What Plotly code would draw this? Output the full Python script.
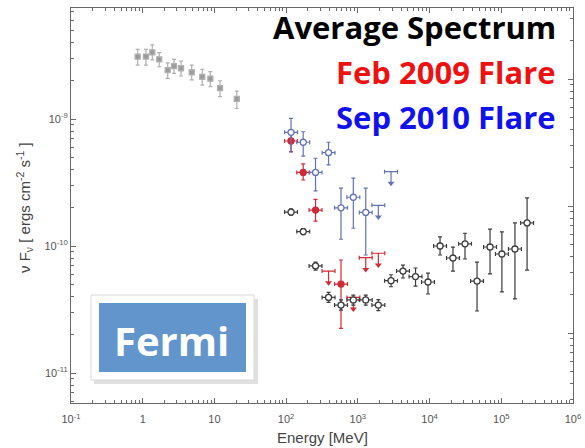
import numpy as np
import plotly.graph_objects as go

# ---- data -------------------------------------------------------------
# Low-energy (1-30 MeV) average spectrum points
soft_e = [0.85, 1.11, 1.36, 1.70, 2.23, 2.73, 3.42, 4.82, 6.77, 8.77, 11.97, 20.5]
soft_f = [3.10e-9, 3.10e-9, 3.35e-9, 2.95e-9, 2.43e-9, 2.61e-9, 2.51e-9, 2.33e-9,
          2.15e-9, 2.08e-9, 1.75e-9, 1.44e-9]
soft_hi = [3.54e-9, 3.54e-9, 3.83e-9, 3.33e-9, 2.77e-9, 2.95e-9, 2.86e-9, 2.66e-9,
           2.46e-9, 2.36e-9, 2.00e-9, 1.66e-9]
soft_lo = [2.66e-9, 2.66e-9, 2.92e-9, 2.58e-9, 2.09e-9, 2.29e-9, 2.18e-9, 2.03e-9,
           1.85e-9, 1.80e-9, 1.50e-9, 1.21e-9]
soft_half_dex = 0.02

# LAT energy bins (MeV), half-width in decades
lat_e = [117, 173, 257, 390, 582, 865, 1288, 1930, 2900, 4260, 6370, 9510,
         14000, 21200, 31200, 45900, 69700, 102000, 155000, 229000]
lat_half_dex = 0.09

# Average spectrum
avg_f = [1.85e-10, 1.30e-10, 6.97e-11, 3.94e-11, 3.43e-11, 3.76e-11, 3.76e-11, 3.43e-11,
         5.33e-11, 6.35e-11, 5.75e-11, 5.21e-11, 1.00e-10, 8.05e-11, 1.04e-10, 5.30e-11,
         9.82e-11, 8.65e-11, 9.47e-11, 1.52e-10]
avg_hi = [1.96e-10, 1.37e-10, 7.48e-11, 4.32e-11, 3.76e-11, 4.11e-11, 4.11e-11, 3.79e-11,
          5.94e-11, 7.08e-11, 6.71e-11, 6.12e-11, 1.18e-10, 9.80e-11, 1.26e-10, 7.48e-11,
          1.36e-10, 1.29e-10, 1.52e-10, 2.39e-10]
avg_lo = [1.75e-10, 1.23e-10, 6.47e-11, 3.60e-11, 3.13e-11, 3.43e-11, 3.43e-11, 3.10e-11,
          4.78e-11, 5.60e-11, 4.84e-11, 4.19e-11, 8.50e-11, 6.35e-11, 7.90e-11, 3.08e-11,
          6.03e-11, 4.35e-11, 3.83e-11, 6.47e-11]

# Feb 2009 flare
feb_e = [117, 173, 257, 582]
feb_f = [6.71e-10, 3.80e-10, 1.92e-10, 5.02e-11]
feb_hi = [7.94e-10, 4.43e-10, 2.33e-10, 7.76e-11]
feb_lo = [5.53e-10, 3.31e-10, 1.57e-10, 2.25e-11]
feb_ul_e = [390, 865, 1288, 1930]
feb_ul_f = [6.35e-11, 3.94e-11, 8.09e-11, 8.77e-11]

# Sep 2010 flare
sep_e = [117, 173, 257, 390, 582, 865, 1288]
sep_f = [7.86e-10, 6.56e-10, 3.80e-10, 5.43e-10, 2.00e-10, 2.42e-10, 1.84e-10]
sep_hi = [1.01e-9, 7.94e-10, 4.91e-10, 6.56e-10, 2.86e-10, 3.43e-10, 2.86e-10]
sep_lo = [5.50e-10, 5.11e-10, 2.72e-10, 4.35e-10, 1.13e-10, 1.38e-10, 8.50e-11]
sep_ul_e = [1930, 2900]
sep_ul_f = [2.09e-10, 3.85e-10]

# upper-limit arrow length, decades
ul_arrow_dex = 0.092

x_ticks = [0.1, 1, 10, 1e2, 1e3, 1e4, 1e5, 1e6]
x_ticktext = ["10<sup>-1</sup>", "1", "10", "10<sup>2</sup>", "10<sup>3</sup>",
              "10<sup>4</sup>", "10<sup>5</sup>", "10<sup>6</sup>"]
y_ticks = [1e-11, 1e-10, 1e-9]
y_ticktext = ["10<sup>-11</sup>", "10<sup>-10</sup>", "10<sup>-9</sup>"]

# ---- geometry ---------------------------------------------------------
W, H = 585, 448
L, R, T, B = 71, 573, 8, 403
x_range = [-1, 6]
y_range = [-11.236, -8.126]
lum_shift = 57.685  # nu L_nu scale on the right-hand axis
y2_range = [y_range[0] + lum_shift, y_range[1] + lum_shift]


def px(x):
    return (x - L) / (R - L)


def py(y):
    return (B - y) / (B - T)


def xerr(e, half):
    e = np.asarray(e, float)
    return dict(type="data", symmetric=False, array=e * 10**half - e,
                arrayminus=e - e * 10**-half)


def yerr(f, hi, lo):
    f = np.asarray(f, float)
    return dict(type="data", symmetric=False, array=np.asarray(hi) - f,
                arrayminus=f - np.asarray(lo))


fig = go.Figure()

GRAY = "#9a9a9a"
BLACK = "#3c3c3c"
BLUE = "#6373b2"
RED = "#d02a36"


def points(e, f, hi, lo, half, color, fill, size=6, sym="circle"):
    ex = xerr(e, half)
    ex.update(color=color, thickness=1.2, width=2)
    ey = yerr(f, hi, lo)
    ey.update(color=color, thickness=1.2, width=2)
    fig.add_trace(go.Scatter(
        x=e, y=f, mode="markers", error_x=ex, error_y=ey,
        marker=dict(symbol=sym, size=size, color=fill, line=dict(color=color, width=1.3)),
        showlegend=False))


def upper_limits(e, f, color):
    f = np.asarray(f, float)
    tip = f * 10**-ul_arrow_dex
    ex = xerr(e, lat_half_dex)
    ex.update(color=color, thickness=1.2, width=2)
    fig.add_trace(go.Scatter(
        x=e, y=f, mode="markers",
        marker=dict(size=1, color=color),
        error_x=ex,
        error_y=dict(type="data", symmetric=False, array=np.zeros_like(f),
                     arrayminus=f - tip, color=color, thickness=1.2, width=0),
        showlegend=False))
    fig.add_trace(go.Scatter(
        x=e, y=tip, mode="markers",
        marker=dict(symbol="triangle-down", size=6, color=color, line=dict(width=0)),
        showlegend=False))


points(soft_e, soft_f, soft_hi, soft_lo, soft_half_dex, "#b0b0b0", GRAY, size=5, sym="square")
upper_limits(feb_ul_e, feb_ul_f, RED)
points(feb_e, feb_f, feb_hi, feb_lo, lat_half_dex, RED, RED)
upper_limits(sep_ul_e, sep_ul_f, BLUE)
points(sep_e, sep_f, sep_hi, sep_lo, lat_half_dex, BLUE, "white")
points(lat_e, avg_f, avg_hi, avg_lo, lat_half_dex, BLACK, "white")

# keep the right-hand axis alive
fig.add_trace(go.Scatter(x=[1e3], y=[10**y2_range[0]], yaxis="y2", mode="markers",
                         marker=dict(size=1, opacity=0), hoverinfo="skip", showlegend=False))

minor_x = [m * 10.0**d for d in range(-1, 6) for m in range(2, 10)]
minor_y = [m * 10.0**d for d in range(-12, -8) for m in range(2, 10)]
minor_y2 = [m * 10.0**d for d in range(45, 51) for m in range(2, 10)]

AX = "#6a6a6a"
TICKFONT = dict(family="Liberation Sans, Arial, sans-serif", size=11, color="#555555")

fig.update_layout(
    width=W, height=H,
    margin=dict(l=L, r=W - R, t=T, b=H - B, pad=0),
    paper_bgcolor="white", plot_bgcolor="rgba(0,0,0,0)",
    xaxis=dict(type="log", range=x_range, showgrid=False, zeroline=False,
               showline=True, linecolor=AX, linewidth=1, mirror="ticks",
               ticks="inside", ticklen=5, tickcolor=AX,
               tickvals=x_ticks, ticktext=x_ticktext, tickfont=TICKFONT,
               ticklabelstandoff=6,
               minor=dict(tickvals=minor_x, ticks="inside", ticklen=3, tickcolor=AX),
               automargin=False),
    yaxis=dict(type="log", range=y_range, showgrid=False, zeroline=False,
               showline=True, linecolor=AX, linewidth=1,
               ticks="inside", ticklen=5, tickcolor=AX,
               tickvals=y_ticks, ticktext=y_ticktext, tickfont=TICKFONT,
               minor=dict(tickvals=minor_y, ticks="inside", ticklen=3, tickcolor=AX),
               automargin=False),
    yaxis2=dict(type="log", range=y2_range, overlaying="y", side="right",
                showgrid=False, zeroline=False,
                showline=True, linecolor=AX, linewidth=1,
                ticks="inside", ticklen=5, tickcolor=AX,
                tickvals=[1e47, 1e48, 1e49], showticklabels=False,
                minor=dict(tickvals=minor_y2, ticks="inside", ticklen=3, tickcolor=AX),
                automargin=False),
    showlegend=False,
)

# axis titles
fig.add_annotation(x=px(322), y=py(437), xref="paper", yref="paper",
                   xanchor="center", yanchor="middle",
                   text="Energy [MeV]", showarrow=False,
                   font=dict(family="Liberation Sans, Arial, sans-serif", size=15, color="#444444"))
fig.add_annotation(x=px(24), y=py(208), xref="paper", yref="paper", textangle=-90,
                   xanchor="center", yanchor="middle",
                   text="\u03bd F<sub>\u03bd</sub> [ ergs cm<sup>-2</sup> s<sup>-1</sup> ]",
                   showarrow=False,
                   font=dict(family="Liberation Sans, Arial, sans-serif", size=15, color="#444444"))

# series labels
BOLD = "Open Sans, Noto Sans, sans-serif"
for label, color, yc in [("Average Spectrum", "#000000", 27),
                         ("Feb 2009 Flare", "#ee1111", 72),
                         ("Sep 2010 Flare", "#1111ee", 117)]:
    fig.add_annotation(x=px(558), y=py(yc), xref="paper", yref="paper",
                       xanchor="right", yanchor="middle", showarrow=False,
                       text=f"<b>{label}</b>",
                       font=dict(family=BOLD, size=31, color=color))

# instrument badge
fig.add_shape(type="rect", xref="paper", yref="paper", layer="below",
              x0=px(94), x1=px(258), y0=py(299), y1=py(384),
              fillcolor="rgba(0,0,0,0.12)", line=dict(width=0))
fig.add_shape(type="rect", xref="paper", yref="paper", layer="below",
              x0=px(91), x1=px(254), y0=py(295), y1=py(380),
              fillcolor="white", line=dict(color="#d8d8d8", width=1))
fig.add_shape(type="rect", xref="paper", yref="paper", layer="below",
              x0=px(99), x1=px(246), y0=py(303), y1=py(372),
              fillcolor="#6195cb", line=dict(width=0))
fig.add_annotation(x=px(171), y=py(340), xref="paper", yref="paper",
                   xanchor="center", yanchor="middle",
                   text="<b>Fermi</b>", showarrow=False,
                   font=dict(family=BOLD, size=40, color="white"))

fig.write_html("out.html")
